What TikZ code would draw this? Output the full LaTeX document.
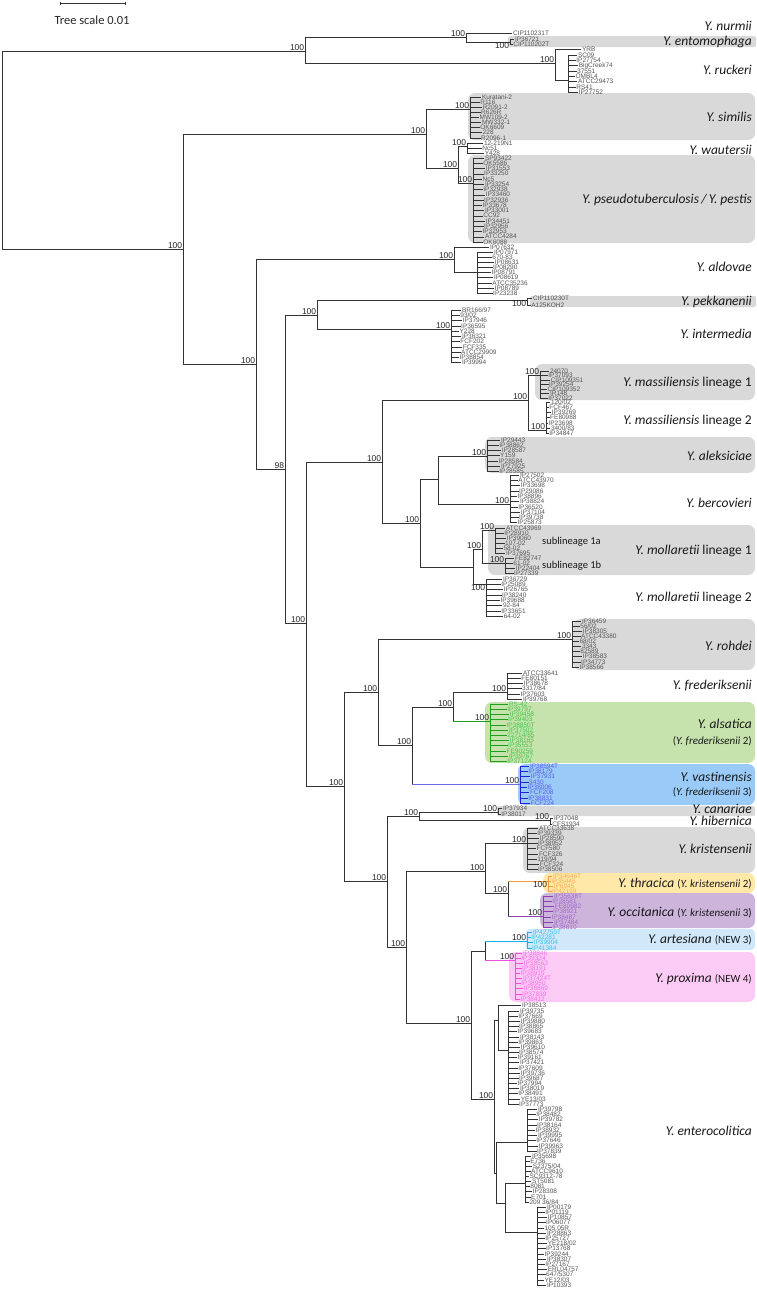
\documentclass[tikz,border=0pt]{standalone}
\usepackage{fontspec}
\setmainfont{Carlito}
\newfontfamily\tipfont{Liberation Sans}
\usetikzlibrary{arrows.meta}
\definecolor{cladegray}{HTML}{D9D9D9}
\definecolor{alsbox}{HTML}{C6E3AE}
\definecolor{vasbox}{HTML}{9ACBF8}
\definecolor{thrbox}{HTML}{FFE8A8}
\definecolor{occbox}{HTML}{CDB4DB}
\definecolor{artbox}{HTML}{D0E8FA}
\definecolor{probox}{HTML}{FCCBF5}
\definecolor{tip}{HTML}{333333}
\definecolor{tipT}{HTML}{555555}
\definecolor{als}{HTML}{1E9E1E}
\definecolor{alsT}{HTML}{45C445}
\definecolor{vas}{HTML}{2020D8}
\definecolor{vasT}{HTML}{5A5AE6}
\definecolor{vasbr}{HTML}{6B6BE0}
\definecolor{thr}{HTML}{F39C3A}
\definecolor{thrT}{HTML}{F7AE55}
\definecolor{occ}{HTML}{8A3FB5}
\definecolor{occT}{HTML}{A066CC}
\definecolor{art}{HTML}{16B3F0}
\definecolor{artT}{HTML}{3DC0F2}
\definecolor{pro}{HTML}{F050E0}
\definecolor{proT}{HTML}{F070E6}
\tikzset{
  br/.style={draw=black!80, line width=1pt},
  lf/.style={line width=0.5pt},
  leaflab/.style={anchor=west, inner sep=0.4pt, font=\tipfont\fontsize{6.5}{6.5}\selectfont},
  boot/.style={anchor=south east, inner sep=0.6pt, text=black!85, font=\tipfont\fontsize{8.5}{8.5}\selectfont},
  bootb/.style={boot, anchor=north east},
  species/.style={anchor=east, inner sep=0pt, text=black!90, font=\fontsize{13.5}{16}\selectfont},
  note/.style={anchor=west, inner sep=0pt, text=black!90, font=\fontsize{10.5}{12}\selectfont},
  clbox/.style={rounded corners=7pt},
}
% tips: [colour]{node}{label x}{first y}{step}{names}
\newcommand\tips[6][tip]{%
  \foreach \tipname [count=\i] in {#6}{%
    \node[leaflab, text=#1T] (#2-\i) at ({#3+mod(\i*3,5)*0.8}, {#4+(\i-1)*#5}) {\tipname};
    \draw[lf, draw=#1] (#2) |- (#2-\i.west);
  }}
\newcommand\sm[1]{{\fontsize{11}{13}\selectfont #1}}

\begin{document}
\begin{tikzpicture}[x=1pt, y=-1pt]
  \useasboundingbox (0,0) rectangle (756,1294);
  % clade boxes
  \fill[cladegray, rounded corners=2pt] (508,36) rectangle (756,47);
  \fill[cladegray, clbox] (468,93) rectangle (755,140);
  \fill[cladegray, clbox] (468,155) rectangle (755,243);
  \fill[cladegray, rounded corners=2pt] (530,296) rectangle (756,307);
  \fill[cladegray, clbox] (535,364) rectangle (755,400);
  \fill[cladegray, clbox] (485,437) rectangle (755,473);
  \fill[cladegray, clbox] (488,525) rectangle (755,575);
  \fill[cladegray, clbox] (573,619) rectangle (755,670);
  \fill[alsbox, clbox] (485,702) rectangle (755,763);
  \fill[vasbox, clbox] (518,764) rectangle (755,805);
  \fill[cladegray, rounded corners=2pt] (497,806) rectangle (755,816);
  \fill[cladegray, clbox] (523,827) rectangle (755,873);
  \fill[thrbox, clbox] (543,873) rectangle (755,893);
  \fill[occbox, clbox] (540,893) rectangle (755,928);
  \fill[artbox, rounded corners=4pt] (526,929) rectangle (755,950);
  \fill[probox, clbox] (509,952) rectangle (755,1002);

  % scale bar
  \coordinate (sc1) at (60,3);
  \coordinate (sc2) at (125,3);
  \draw[lf, draw=black!80, {Bar[width=3pt]}-{Bar[width=3pt]}] (sc1) -- (sc2);
  \node[font=\fontsize{12.5}{14}\selectfont, text=black!85] (scale) at (92,20) {Tree scale 0.01};

  % inner nodes
  \coordinate (root) at (2,150);
  \coordinate (nA) at (305,51);
  \coordinate (nNE) at (466,37);
  \coordinate (nEmo) at (510,42);
  \coordinate (nRu) at (555,63);
  \coordinate (nRu2) at (568,80);
  \coordinate (nB) at (183,249);
  \coordinate (nC) at (426,134);
  \coordinate (nSim) at (470,109);
  \coordinate (nWP) at (458,168);
  \coordinate (nWau) at (467,146);
  \coordinate (nPst) at (473,183);
  \coordinate (nD) at (256,364);
  \coordinate (nAld) at (454,259);
  \coordinate (nAld2) at (477,272);
  \coordinate (nE) at (285,469);
  \coordinate (nF) at (317,315);
  \coordinate (nPek) at (527,300);
  \coordinate (nInt) at (451,329);
  \coordinate (nG) at (306,623);
  \coordinate (nH) at (382,462);
  \coordinate (nMas) at (528,400);
  \coordinate (nMas1) at (540,375);
  \coordinate (nMas2) at (546,430);
  \coordinate (nJ) at (420,523);
  \coordinate (nK) at (438,479);
  \coordinate (nAlek) at (487,456);
  \coordinate (nBer) at (510,504);
  \coordinate (nMol) at (473,567);
  \coordinate (nMol1) at (482,549);
  \coordinate (nS1a) at (495,530);
  \coordinate (nS1b) at (505,563);
  \coordinate (nMol2) at (486,584);
  \coordinate (nI) at (344,786);
  \coordinate (nL) at (378,692);
  \coordinate (nRoh) at (572,639);
  \coordinate (nN) at (412,745);
  \coordinate (nO) at (453,707);
  \coordinate (nFre) at (507,692);
  \coordinate (nAls) at (490,721);
  \coordinate (nVas) at (520,784);
  \coordinate (nM) at (387,881);
  \coordinate (nCH) at (419,816);
  \coordinate (nCan) at (498,812);
  \coordinate (nHib) at (550,820);
  \coordinate (nP) at (406,947);
  \coordinate (nQ) at (485,871);
  \coordinate (nKri) at (527,843);
  \coordinate (nS) at (508,893);
  \coordinate (nThr) at (548,881);
  \coordinate (nOcc) at (543,916);
  \coordinate (nR) at (471,1023);
  \coordinate (nT) at (485,951);
  \coordinate (nArt) at (527,941);
  \coordinate (nPro) at (515,960);
  \coordinate (nEco) at (494,1099);
  \coordinate (nEa) at (498,1020);
  \coordinate (nEa2) at (508,1050);
  \coordinate (nEb) at (496,1173);
  \coordinate (nEc) at (527,1142);
  \coordinate (nEd) at (505,1203);
  \coordinate (nEe) at (525,1183);
  \coordinate (nEf) at (537,1232);

  % backbone
  \foreach \p/\c in {root/nA, root/nB, nA/nNE, nA/nRu, nNE/nEmo, nRu/nRu2,
      nB/nC, nB/nD, nC/nSim, nC/nWP, nWP/nWau, nWP/nPst, nD/nAld, nAld/nAld2,
      nD/nE, nE/nF, nE/nG, nF/nPek, nF/nInt, nG/nH, nG/nI, nH/nMas, nH/nJ,
      nMas/nMas1, nMas/nMas2, nJ/nK, nJ/nMol, nK/nAlek, nK/nBer,
      nMol/nMol1, nMol/nMol2, nMol1/nS1a, nMol1/nS1b, nI/nL, nI/nM,
      nL/nRoh, nL/nN, nN/nO, nN/nVas, nO/nFre, nO/nAls, nM/nCH, nM/nP,
      nCH/nCan, nCH/nHib, nP/nQ, nP/nR, nQ/nKri, nQ/nS, nS/nThr, nS/nOcc,
      nR/nT, nR/nEco, nT/nArt, nT/nPro, nEco/nEa, nEco/nEb, nEa/nEa2,
      nEb/nEc, nEb/nEd, nEd/nEe, nEd/nEf}
    \draw[br] (\p) |- (\c);
  % coloured stems
  \draw[br, draw=als] (nO |- nAls) -- (nAls);
  \draw[br, draw=vasbr] (nN |- nVas) -- (nVas);
  \draw[br, draw=thr] (nS |- nThr) -- (nThr);
  \draw[br, draw=occ] (nS |- nOcc) -- (nOcc);
  \draw[br, draw=art] (nT |- nArt) -- (nArt);
  \draw[br, draw=pro] (nT |- nPro) -- (nPro);

  % tips
  \tips{nNE}{510}{33}{5}{CIP110231T}
  \tips{nEmo}{512}{39}{5}{IP36721, CIP110202T}
  \tips{nRu}{579}{49}{5}{YRB}
  \tips{nRu2}{575}{55}{5.3}{SC09, IP27754, BigCreek74, 37551, OMBL4, ATCC29473, RS41, IP27752}
  \tips{nSim}{479}{97}{5.1}{Kuratani-2, R116, R2091-2, R626R, MW109-2, MW332-1, OK6609, 228, R2096-1}
  \tips{nWau}{481}{143}{5}{12-219N1, Nc51, Y428}
  \tips{nPst}{482}{158}{5.25}{SP93422, OK5586, IP31553, IP33250, Nc5, IP33254, IP32938, IP33460, IP32936, IP33678, IP33001, CC92, IP34451, IP32956, IP32953, ATCC4284, OK6088}
  \tips{nAld}{487}{247}{5}{IP07632}
  \tips{nAld2}{491}{252.2}{5.1}{IP07971, 670-83, IP08631, IP08290, IP08791, IP08619, ATCC35236, IP08789, IP23238}
  \tips{nPek}{530}{298}{7.5}{CIP110230T, A125KOH2}
  \tips{nInt}{459}{310}{5.27}{BR166/97, 93/02, IP37946, IP36595, Y228, IP36321, FCF202, FCF335, ATCC29909, IP38854, IP39994}
  \tips{nMas1}{547}{371}{4.5}{24070, IP37093, CIP109351, IP39254, CIP109352, IR148, IP37022}
  \tips{nMas2}{548}{402}{5.2}{120/02, FCF467, IP39269, FE80988, IP23698, 3400/83, IP34847}
  \tips{nAlek}{498}{440}{5.2}{IP29443, IP38862, IP28587, Y159, IP28584, IP27925, IP28585}
  \tips{nBer}{517}{475}{5.3}{IP27502, ATCC43970, IP33698, IP29086, IP38896, IP38824, IP36520, IP37104, IP39738, IP25873}
  \tips{nS1a}{503}{528}{5}{ATCC43969, IP28910, IP39060, 107-02, 58-02, IP37695}
  \tips{nS1b}{512}{558}{5}{FE82747, 61-02, IP22404, IP27339}
  \tips{nMol2}{500}{579}{5.3}{IP36729, IP25089, IP26765, IP38240, IP39688, 92-84, IP33651, 64-02}
  \tips{nRoh}{579}{621}{5.1}{IP36459, 56/02, IP38305, ATCC43380, 68/02, 3343, 82589, IP38583, IP34773, IP38566}
  \tips{nFre}{520}{673}{5.2}{ATCC33641, FE80151, IP38678, 3317/84, IP37603, IP39768}
  \tips[als]{nAls}{506}{704}{5.2}{RS-42, IP39797, IP39458, IP39403, IP38850T, IP37502, 22714/85, IP38165, IP35553, FE90259, IP39767, IP37124}
  \tips[vas]{nVas}{527}{766}{5.3}{IP38594T, IP38179, IP37931, 3430, IP38006, FCF208, IP38831, FCF224}
  \tips{nCan}{500}{808}{6}{IP37934, IP38017}
  \tips{nHib}{551}{818}{6}{IP37048, CFS1934}
  \tips{nKri}{536}{828}{5.15}{ATCC33638, IP39339, IP28590, IP38952, FCF580, FCF326, 119/94, FCF324, IP38506}
  \tips[thr]{nThr}{550}{876.5}{5}{IP34646T, IP35446, IP6945, IP42199}
  \tips[occ]{nOcc}{551}{896}{5.2}{IP35638T, IP28581, FE80982, IP38921, IP38487, IP37484, IP38810}
  \tips[art]{nArt}{530}{932}{5.3}{IP42750T, IP42281, IP39904, IP41384}
  \tips[pro]{nPro}{520}{953}{5.1}{IP38846, IP39324, IP38563, IP38191, IP38919, IP37424T, IP38950, IP38869, IP37839, IP38412}
  \tips{nEa}{519}{1005}{5}{IP38513}
  \tips{nEa2}{517}{1011}{5.17}{IP39735, IP37669, IP39880, IP38865, IP39683, IP38143, IP39863, IP39610, IP38574, IP39161, IP37421, IP37609, IP39736, IP39687, IP37994, IP38019, IP38491, YE13/03, IP37773}
  \tips{nEc}{535}{1109}{5.25}{IP39798, IP38482, IP39782, IP38164, IP38932, IP39995, IP37646, IP39963, IP37839}
  \tips{nEe}{529}{1156}{5.1}{IP35698, E736, S2375/04, ATCC9610, SC9312-78, ST5081, 8081, IP28308, E701, 209 36/84}
  \tips{nEf}{544}{1207}{5.2}{IP00179, IP01119, IP10857, IP06077, 105.05R, IP28863, IP25727, YE218/02, IP13768, IP39244, IP38307, IP27167, ERL04757, 647/5307, YE12/03, IP10393}

  % support values
  \foreach \c in {nA, nNE, nRu, nB, nC, nSim, nWP, nWau, nPst, nD, nAld, nF,
      nInt, nG, nH, nMas, nMas1, nMas2, nJ, nAlek, nBer, nMol1, nS1a, nS1b,
      nI, nL, nRoh, nN, nO, nFre, nAls, nVas, nM, nCH, nCan, nHib, nP, nQ,
      nKri, nS, nOcc, nR, nArt, nPro, nEco}
    \node[boot] (b\c) at (\c) {100};
  \node[boot] (bnE) at (nE) {98};
  \foreach \c in {nEmo, nPek, nMol2, nThr}
    \node[bootb] (b\c) at (\c) {100};

  % species names
  \node[species] (sp-nur) at (752,26) {\textit{Y. nurmii}};
  \node[species] (sp-ent) at (752,42) {\textit{Y. entomophaga}};
  \node[species] (sp-ruc) at (752,70) {\textit{Y. ruckeri}};
  \node[species] (sp-sim) at (752,117) {\textit{Y. similis}};
  \node[species] (sp-wau) at (752,150) {\textit{Y. wautersii}};
  \node[species] (sp-pst) at (752,200) {\textit{Y. pseudotuberculosis\,/\,Y. pestis}};
  \node[species] (sp-ald) at (752,267) {\textit{Y. aldovae}};
  \node[species] (sp-pek) at (752,302) {\textit{Y. pekkanenii}};
  \node[species] (sp-int) at (752,334) {\textit{Y. intermedia}};
  \node[species] (sp-ma1) at (752,383) {\textit{Y. massiliensis} lineage 1};
  \node[species] (sp-ma2) at (752,421) {\textit{Y. massiliensis} lineage 2};
  \node[species] (sp-ale) at (752,456) {\textit{Y. aleksiciae}};
  \node[species] (sp-ber) at (752,503) {\textit{Y. bercovieri}};
  \node[species] (sp-mo1) at (752,551) {\textit{Y. mollaretii} lineage 1};
  \node[species] (sp-mo2) at (752,598) {\textit{Y. mollaretii} lineage 2};
  \node[species] (sp-roh) at (752,646) {\textit{Y. rohdei}};
  \node[species] (sp-fre) at (752,686) {\textit{Y. frederiksenii}};
  \node[species] (sp-als) at (752,724) {\textit{Y. alsatica}};
  \node[species] (sp-als2) at (752,741) {\sm{(\textit{Y. frederiksenii} 2)}};
  \node[species] (sp-vas) at (752,777) {\textit{Y. vastinensis}};
  \node[species] (sp-vas2) at (752,792) {\sm{(\textit{Y. frederiksenii} 3)}};
  \node[species] (sp-can) at (752,809) {\textit{Y. canariae}};
  \node[species] (sp-hib) at (752,821) {\textit{Y. hibernica}};
  \node[species] (sp-kri) at (752,849) {\textit{Y. kristensenii}};
  \node[species] (sp-thr) at (752,884) {\textit{Y. thracica} \sm{(\textit{Y. kristensenii} 2)}};
  \node[species] (sp-occ) at (752,913) {\textit{Y. occitanica} \sm{(\textit{Y. kristensenii} 3)}};
  \node[species] (sp-art) at (752,940) {\textit{Y. artesiana} \sm{(NEW 3)}};
  \node[species] (sp-pro) at (752,979) {\textit{Y. proxima} \sm{(NEW 4)}};
  \node[species] (sp-eco) at (752,1131) {\textit{Y. enterocolitica}};
  \node[note] (sub1a) at (542,542) {sublineage 1a};
  \node[note] (sub1b) at (542,566) {sublineage 1b};
\end{tikzpicture}
\end{document}
